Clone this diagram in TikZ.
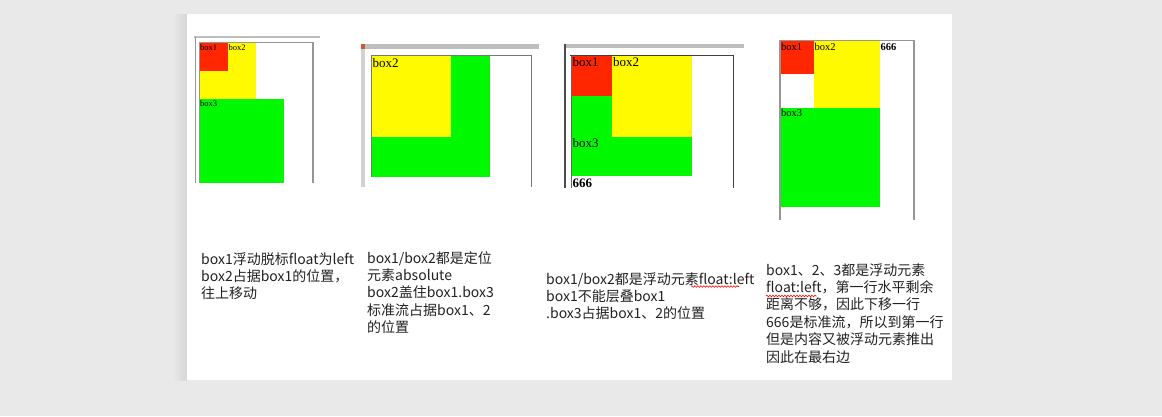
\documentclass[tikz,border=0pt]{standalone}
\usepackage{fontspec}
\setmainfont{Liberation Serif}
\newfontfamily\cjk{Noto Sans CJK SC}
\usetikzlibrary{decorations.pathmorphing}
\definecolor{pagebg}{RGB}{233,233,233}
\definecolor{boxred}{RGB}{255,38,0}
\definecolor{boxyellow}{RGB}{255,250,0}
\definecolor{boxgreen}{RGB}{0,249,0}
\definecolor{bordergray}{RGB}{150,150,150}
\definecolor{bargray}{RGB}{190,190,190}
\definecolor{txt}{RGB}{34,34,34}
\tikzset{
  note/.style={anchor=base west, inner sep=0pt, font=\cjk\fontsize{14}{17}\selectfont, text=txt},
  lbl/.style={anchor=base west, inner sep=0pt, text=black},
  frame/.style={draw=bordergray, line width=1.2pt},
  squiggle/.style={draw=red, line width=0.6pt, decorate, decoration={snake, amplitude=0.8pt, segment length=3pt}},
}
\begin{document}
\begin{tikzpicture}[x=1pt,y=-1pt]
\useasboundingbox (0,0) rectangle (1162,416);
\fill[pagebg] (0,0) rectangle (1162,416);
\shade[left color=pagebg, right color=pagebg!92!black] (172,14) rectangle (187,380);
\fill[white] (187,14) rectangle (952,380);

% ---------- panel 1 ----------
\draw[bargray, line width=1.8pt] (194,37.3) -- (320,37.3);
\draw[bordergray, line width=1pt] (195,37.3) -- (195,183);
\draw[frame] (199,42.7) -- (313,42.7) -- (313,183);
\fill[boxyellow] (200,43) rectangle (256,99.3);
\fill[boxred] (200,43) rectangle (228.3,71);
\fill[boxgreen] (200,99.3) rectangle (284.3,182.7);
\draw[bordergray, line width=0.8pt] (199.5,43) -- (199.5,183);
\node[lbl, font=\fontsize{8.5}{10}\selectfont] (p1b1) at (200,50.5) {box1};
\node[lbl, font=\fontsize{8.5}{10}\selectfont] (p1b2) at (228.3,50.5) {box2};
\node[lbl, font=\fontsize{8.5}{10}\selectfont] (p1b3) at (200,106.5) {box3};

% ---------- panel 2 ----------
\fill[bargray] (361,44) rectangle (539,49);
\fill[brown!70!red] (361,44) rectangle (365,49);
\fill[bargray!70!white] (361,49) rectangle (365,187);
\draw[bordergray!80!black, line width=1pt] (371,55.7) -- (531,55.7) -- (531,187);
\fill[boxgreen] (372,56.2) rectangle (490,177);
\fill[boxyellow] (372,56.2) rectangle (451,137);
\draw[bordergray!80!black, line width=1pt] (371.5,56) -- (371.5,177);
\node[lbl, font=\fontsize{13}{15}\selectfont] (p2b2) at (372.5,67.7) {box2};

% ---------- panel 3 ----------
\fill[bargray] (564,44) rectangle (744,48.3);
\draw[black!70, line width=1.5pt] (565,44) -- (565,188);
\draw[black!75, line width=1pt] (570,55.7) -- (733,55.7) -- (733,188);
\fill[boxgreen] (572,56.2) rectangle (692.3,176);
\fill[boxyellow] (612.3,56.2) rectangle (692.3,136.7);
\fill[boxred] (572,56.2) rectangle (612.3,96);
\draw[black!60, line width=0.8pt] (571.5,56) -- (571.5,188);
\node[lbl, font=\fontsize{13}{15}\selectfont] (p3b1) at (572.5,66.7) {box1};
\node[lbl, font=\fontsize{13}{15}\selectfont] (p3b2) at (612.8,66.7) {box2};
\node[lbl, font=\fontsize{13}{15}\selectfont] (p3b3) at (572.5,147.3) {box3};
\node[lbl, font=\bfseries\fontsize{13}{15}\selectfont] (p3t) at (572.5,187.3) {666};

% ---------- panel 4 ----------
\draw[frame] (780,220) -- (780,40.7) -- (914,40.7) -- (914,220);
\fill[boxred] (780.6,41.3) rectangle (814,74);
\fill[boxyellow] (814,41.3) rectangle (880,107.7);
\fill[boxgreen] (780.6,107.7) rectangle (880,207);
\node[lbl, font=\fontsize{10.5}{12}\selectfont] (p4b1) at (781,50) {box1};
\node[lbl, font=\fontsize{10.5}{12}\selectfont] (p4b2) at (814.5,50) {box2};
\node[lbl, font=\fontsize{10.5}{12}\selectfont] (p4b3) at (781,116) {box3};
\node[lbl, font=\bfseries\fontsize{10.5}{12}\selectfont] (p4t) at (880.5,50) {666};

% ---------- notes ----------
\node[note] (n1a) at (201,264) {box1浮动脱标float为left};
\node[note] (n1b) at (201,281) {box2占据box1的位置，};
\node[note] (n1c) at (201,298) {往上移动};

\node[note] (n2a) at (367,263) {box1/box2都是定位};
\node[note] (n2b) at (367,280.4) {元素absolute};
\node[note] (n2c) at (367,297.8) {box2盖住box1.box3};
\node[note] (n2d) at (367,315.2) {标准流占据box1、2};
\node[note] (n2e) at (367,332.6) {的位置};

\node[note] (n3a) at (546,284) {box1/box2都是浮动元素float:left};
\node[note] (n3b) at (546,301) {box1不能层叠box1};
\node[note] (n3c) at (546,318) {.box3占据box1、2的位置};
\draw[squiggle] (691,286.5) -- (739,286.5);

\node[note] (n4a) at (766,275) {box1、2、3都是浮动元素};
\node[note] (n4b) at (766,292.4) {float:left，第一行水平剩余};
\node[note] (n4c) at (766,309.8) {距离不够，因此下移一行};
\node[note] (n4d) at (766,327.2) {666是标准流，所以到第一行};
\node[note] (n4e) at (766,344.6) {但是内容又被浮动元素推出};
\node[note] (n4f) at (766,362) {因此在最右边};
\draw[squiggle] (766,296) -- (816.7,296);
\end{tikzpicture}
\end{document}
